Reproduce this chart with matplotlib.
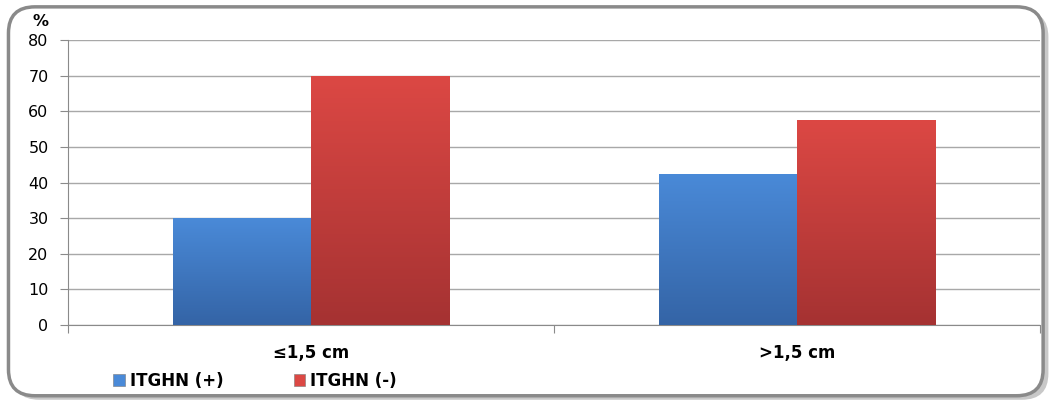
import matplotlib.pyplot as plt
import numpy as np
from matplotlib.patches import FancyBboxPatch
from matplotlib.colors import LinearSegmentedColormap

categories = ["≤1,5 cm", ">1,5 cm"]
series_names = ["ITGHN (+)", "ITGHN (-)"]
itghn_pos = [30, 42.5]
itghn_neg = [70, 57.5]
y_ticks = [0, 10, 20, 30, 40, 50, 60, 70, 80]

colors_top = ["#4a8ad8", "#dc4844"]
colors_bottom = ["#3464a6", "#a53232"]

fig = plt.figure(figsize=(10.59, 4.03), dpi=100)

# rounded frame with shadow
shadow = FancyBboxPatch(
    (0.012, 0.008), 0.978, 0.965,
    boxstyle="round,pad=0,rounding_size=0.025",
    transform=fig.transFigure, facecolor="#c8c8c8", edgecolor="none",
    zorder=-2, mutation_aspect=2.6,
)
frame = FancyBboxPatch(
    (0.008, 0.018), 0.977, 0.965,
    boxstyle="round,pad=0,rounding_size=0.025",
    transform=fig.transFigure, facecolor="white", edgecolor="#8a8a8a",
    linewidth=2.5, zorder=-1, mutation_aspect=2.6,
)
fig.patches.extend([shadow, frame])

ax = fig.add_axes([0.0642, 0.1935, 0.918, 0.707])
ax.set_zorder(2)
ax.set_facecolor("none")

x = np.arange(len(categories))
width = 0.284

for i, values in enumerate([itghn_pos, itghn_neg]):
    offset = (i - 0.5) * width
    bars = ax.bar(x + offset, values, width, color=colors_top[i],
                  edgecolor="#7a7a7a", linewidth=0.4, zorder=3,
                  label=series_names[i])
    cmap = LinearSegmentedColormap.from_list(
        f"grad{i}", [colors_bottom[i], colors_top[i]])
    grad = np.linspace(0, 1, 256).reshape(-1, 1)
    for bar in bars:
        bx, by = bar.get_x(), bar.get_y()
        bw, bh = bar.get_width(), bar.get_height()
        im = ax.imshow(grad, cmap=cmap, origin="lower", aspect="auto",
                       extent=[bx, bx + bw, by, by + bh], zorder=3.5)
        im.set_clip_path(bar)

ax.set_xlim(-0.5, 1.5)
ax.set_ylim(0, 80)
ax.set_yticks(y_ticks)
ax.set_yticklabels([str(t) for t in y_ticks], fontsize=11.5)
ax.yaxis.grid(True, color="#a8a8a8", linewidth=1.0, zorder=0)
ax.set_axisbelow(True)

ax.set_xticks([-0.5, 0.5, 1.5])
ax.set_xticklabels([])
ax.set_xticks(x, minor=True)
ax.set_xticklabels(categories, minor=True, fontsize=12, fontweight="bold")
ax.tick_params(axis="x", which="minor", length=0, pad=14)
ax.tick_params(axis="x", which="major", length=6, color="#8a8a8a")
ax.tick_params(axis="y", length=6, color="#8a8a8a", pad=8)

for side in ["top", "right"]:
    ax.spines[side].set_visible(False)
for side in ["left", "bottom"]:
    ax.spines[side].set_color("#8a8a8a")

fig.text(0.031, 0.935, "%", fontsize=11.5, fontweight="bold")

handles, labels = ax.get_legend_handles_labels()
leg = fig.legend(handles, labels, loc="lower left",
                 bbox_to_anchor=(0.093, -0.004), ncol=2, frameon=False,
                 prop={"size": 12, "weight": "bold"},
                 handlelength=0.7, handleheight=0.7, columnspacing=4.2,
                 handletextpad=0.3)

fig.savefig("out.png", dpi=100)
